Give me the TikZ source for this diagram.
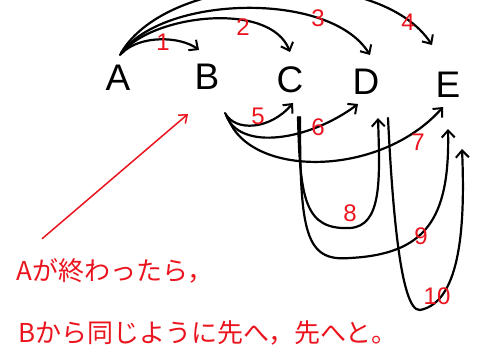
\documentclass[tikz,border=0pt]{standalone}
\usepackage{fontspec}
\setmainfont{Liberation Sans}
\newfontfamily\cjk{Noto Sans CJK JP}
\usetikzlibrary{arrows.meta}
\definecolor{pen}{RGB}{235,20,30}
\tikzset{
  letter/.style={font=\fontsize{37}{37}\selectfont, inner sep=0pt, text=black},
  num/.style={font=\fontsize{24}{24}\selectfont, text=pen, inner sep=0pt},
  flow/.style={line width=2.2pt, black, line cap=round, -{Straight Barb[length=7pt,width=13pt,line width=2pt]}},
  note/.style={font=\cjk\fontsize{26}{26}\selectfont, text=pen, anchor=base west, inner sep=0pt},
}
\begin{document}
\begin{tikzpicture}[x=1pt,y=-1pt]
\useasboundingbox (0,0) rectangle (478,360);
\clip (0,0) rectangle (478,360);
\fill[white] (0,0) rectangle (478,360);
\node[letter] (A) at (118,78) {A};
\node[letter] (B) at (207,77) {B};
\node[letter] (C) at (290,80) {C};
\node[letter] (D) at (366,82) {D};
\node[letter] (E) at (448,85) {E};
% arcs from A
\draw[flow] ([shift={(4,-25)}]A.center) .. controls (140,35) and (180,36) .. ([shift={(-8,-27)}]B.center);
\draw[flow] ([shift={(3,-24)}]A.center) .. controls (150,15) and (270,0) .. ([shift={(0,-28)}]C.center);
\draw[flow] ([shift={(2,-23)}]A.center) .. controls (160,-5) and (330,-10) .. ([shift={(4,-27)}]D.center);
\draw[flow] ([shift={(3,-25)}]A.center) .. controls (170,-30) and (380,-35) .. ([shift={(-16,-40)}]E.center);
% arcs from B
\draw[flow] ([shift={(18,36)}]B.center) .. controls (235,132) and (270,130) .. ([shift={(3,23)}]C.center);
\draw[flow] ([shift={(19,38)}]B.center) .. controls (240,152) and (310,140) .. ([shift={(-8,22)}]D.center);
\draw[flow] ([shift={(21,41)}]B.center) .. controls (250,178) and (380,178) .. ([shift={(-5,22)}]E.center);
% arcs from C and D
\draw[flow] ([shift={(8,37)}]C.center) .. controls (300,200) and (305,230) .. (350,228) .. controls (382,226) and (380,180) .. ([shift={(12,36)}]D.center);
\draw[flow] ([shift={(10,37)}]C.center) .. controls (300,232) and (305,262) .. (350,258) .. controls (425,254) and (450,220) .. ([shift={(0,44)}]E.center);
\draw[flow] ([shift={(22,36)}]D.center) .. controls (392,200) and (400,312) .. (420,310) .. controls (462,302) and (465,220) .. ([shift={(14,64)}]E.center);
% numbers
\node[num] (n1) at (163,42) {1};
\node[num] (n2) at (243,27) {2};
\node[num] (n3) at (318,18) {3};
\node[num] (n4) at (408,22) {4};
\node[num] (n5) at (258,116) {5};
\node[num] (n6) at (318,127) {6};
\node[num] (n7) at (418,142) {7};
\node[num] (n8) at (350,213) {8};
\node[num] (n9) at (421,236) {9};
\node[num] (n10) at (437,296) {10};
% note
\node[note] (t1) at (16,280) {Aが終わったら，};
\node[note] (t2) at (18,342) {Bから同じように先へ，先へと。};
\draw[pen, line width=1.5pt, -{Straight Barb[length=7pt,width=11pt,line width=1.5pt]}] ([shift={(26,-19)}]t1.north west) -- ([shift={(-19,37)}]B.center);
\end{tikzpicture}
\end{document}
